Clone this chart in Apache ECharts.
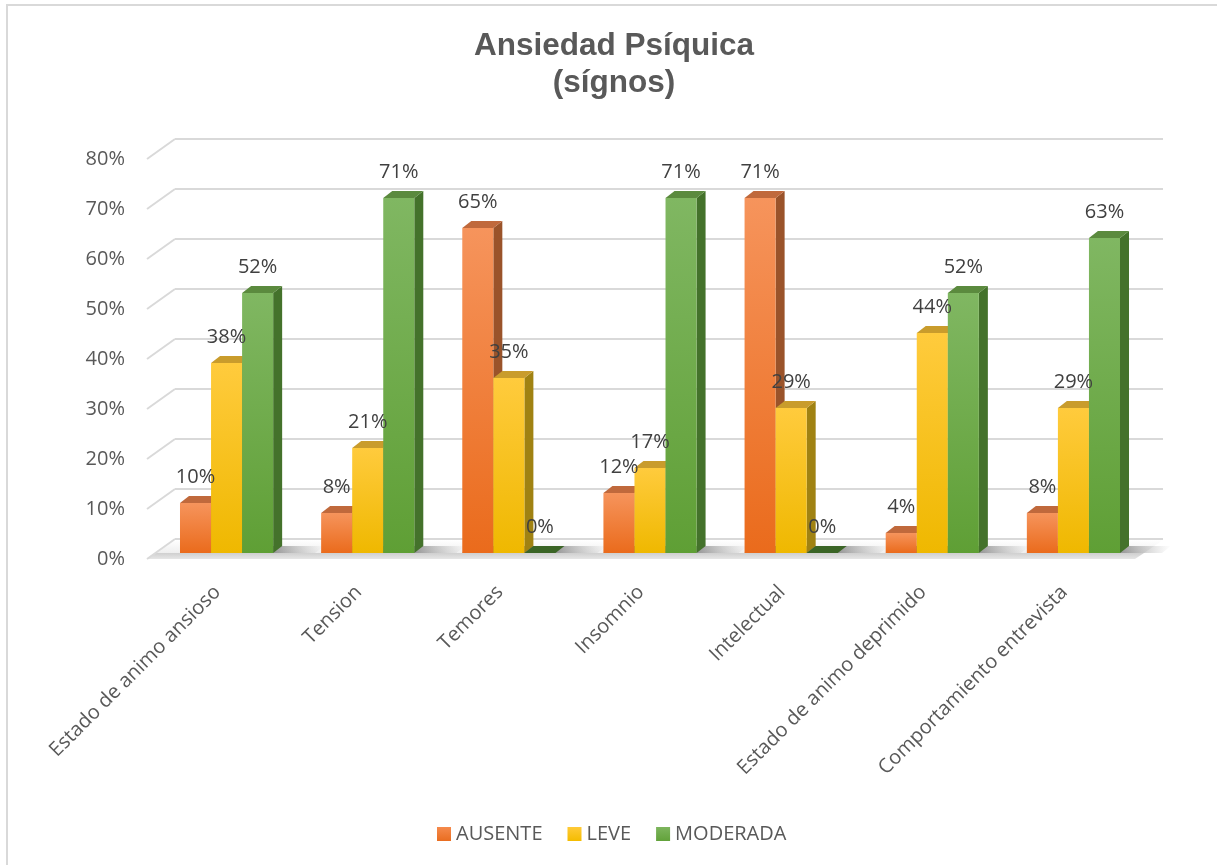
<!DOCTYPE html>
<html>
<head>
<meta charset="utf-8">
<title>Ansiedad Psíquica (sígnos)</title>
<script src="https://cdn.jsdelivr.net/npm/echarts@6/dist/echarts.min.js"></script>
<style>
  html, body { margin: 0; padding: 0; background: #ffffff; }
  #chart { width: 1217px; height: 865px; }
</style>
</head>
<body>
<div id="chart"></div>
<script>
// Categories and percentages per level
const categories = [
  'Estado de animo ansioso',
  'Tension',
  'Temores',
  'Insomnio',
  'Intelectual',
  'Estado de animo deprimido',
  'Comportamiento entrevista'
];
const seriesNames = ['AUSENTE', 'LEVE', 'MODERADA'];
const ausente = [10, 8, 65, 12, 71, 4, 8];
const leve = [38, 21, 35, 17, 29, 44, 29];
const moderada = [52, 71, 0, 71, 0, 52, 63];
const yTicks = [0, 10, 20, 30, 40, 50, 60, 70, 80];

// 3D look: bars sit in front of the back wall, faces receding up-right
const FRONT_DX = -19, FRONT_DY = 14;   // bar front plane relative to back wall
const DEPTH_DX = 9, DEPTH_DY = -7;     // bar depth (top / side faces)
const WALL_DX = -28, WALL_DY = 20;     // front edge of the floor / axis
const BAR_RATIO = 0.22;

const palettes = [
  { front: ['#f6945c', '#ea6b1c'], top: '#c0693c', side: '#9a532a', legend: ['#f58a4c', '#e96d20'] },
  { front: ['#ffcb3d', '#efb800'], top: '#c99c2c', side: '#a08212', legend: ['#ffca38', '#f4bc00'] },
  { front: ['#80b762', '#5f9f35'], top: '#5b8a3e', side: '#44722b', legend: ['#7db55d', '#62a23a'] }
];
const values = [ausente, leve, moderada];
const FONT = '"Open Sans", "Noto Sans", sans-serif';

function vGrad(c) {
  return new echarts.graphic.LinearGradient(0, 0, 0, 1, [
    { offset: 0, color: c[0] }, { offset: 1, color: c[1] }
  ]);
}

function barRenderer(k) {
  const pal = palettes[k];
  return function (params, api) {
    const i = api.value(0), v = api.value(1);
    const c = api.coord([i, v]);
    const base = api.coord([i, 0]);
    const band = api.size([1, 0])[0];
    const w = band * BAR_RATIO;
    const x0 = c[0] - 1.5 * w + k * w + FRONT_DX;
    const x1 = x0 + w;
    const yTop = c[1] + FRONT_DY;
    const yBot = base[1] + FRONT_DY;
    const children = [];
    if (yBot - yTop > 0.5) {
      children.push({
        type: 'polygon',
        shape: { points: [[x1, yTop], [x1 + DEPTH_DX, yTop + DEPTH_DY], [x1 + DEPTH_DX, yBot + DEPTH_DY], [x1, yBot]] },
        style: { fill: pal.side }, z2: k + 1
      });
      children.push({
        type: 'rect',
        shape: { x: x0, y: yTop, width: w, height: yBot - yTop },
        style: { fill: vGrad(pal.front) }, z2: k + 1
      });
    }
    children.push({
      type: 'polygon',
      shape: { points: [[x0, yTop], [x1, yTop], [x1 + DEPTH_DX, yTop + DEPTH_DY], [x0 + DEPTH_DX, yTop + DEPTH_DY]] },
      style: { fill: v === 0 ? '#3b6526' : pal.top }, z2: k + 1
    });
    children.push({
      type: 'text',
      x: (x0 + x1) / 2, y: yTop - 26,
      style: { text: v + '%', fill: '#404040', font: '20px ' + FONT, align: 'center', verticalAlign: 'middle' },
      z2: 100
    });
    return { type: 'group', children: children };
  };
}

// Floor slab and the soft shadows the bar groups cast on it
function floorRenderer(params, api) {
  const cs = params.coordSys;
  const yb = cs.y + cs.height;
  const children = [];
  if (params.dataIndex === 0) {
    children.push({
      type: 'polygon',
      shape: { points: [[cs.x, yb + 1], [cs.x + cs.width, yb + 1], [cs.x + cs.width + FRONT_DX, yb + FRONT_DY], [cs.x + FRONT_DX, yb + FRONT_DY]] },
      style: { fill: new echarts.graphic.LinearGradient(0, 0, 0, 1, [{ offset: 0, color: '#ffffff' }, { offset: 1, color: '#eeeeee' }]) }
    });
    children.push({
      type: 'polygon',
      shape: { points: [[cs.x + FRONT_DX, yb + FRONT_DY], [cs.x + cs.width + FRONT_DX, yb + FRONT_DY], [cs.x + cs.width + WALL_DX, yb + WALL_DY], [cs.x + WALL_DX, yb + WALL_DY]] },
      style: { fill: new echarts.graphic.LinearGradient(0, 0, 0, 1, [{ offset: 0, color: '#cfcfcf' }, { offset: 1, color: '#e6e6e6' }]) }
    });
  }
  const i = api.value(0);
  const c = api.coord([i, 0]);
  const band = api.size([1, 0])[0];
  const w = band * BAR_RATIO;
  const gx0 = c[0] - 1.5 * w + FRONT_DX;
  const gx1 = gx0 + 3 * w;
  const yF = c[1] + FRONT_DY;
  const len = 42;
  children.push({
    type: 'polygon',
    shape: { points: [[gx0 + DEPTH_DX, yF + DEPTH_DY], [gx1 + DEPTH_DX + len, yF + DEPTH_DY], [gx1 + len, yF], [gx0, yF]] },
    style: {
      fill: new echarts.graphic.LinearGradient(0, 0, 1, 0, [
        { offset: 0, color: 'rgba(40,40,40,0.75)' },
        { offset: 0.62, color: 'rgba(60,60,60,0.55)' },
        { offset: 1, color: 'rgba(120,120,120,0)' }
      ])
    }
  });
  return { type: 'group', children: children };
}

// Short receding gridline stubs linking the axis labels to the back wall
function stubRenderer(params, api) {
  const cs = params.coordSys;
  const y = api.coord([0, api.value(0)])[1];
  return {
    type: 'line',
    shape: { x1: cs.x + WALL_DX, y1: y + WALL_DY, x2: cs.x, y2: y },
    style: { stroke: '#d9d9d9', lineWidth: 2 }
  };
}

const chart = echarts.init(document.getElementById('chart'), null, { renderer: 'canvas' });

const series = [
  {
    type: 'custom', name: 'floor', xAxisIndex: 0, yAxisIndex: 0, z: 1, silent: true,
    renderItem: floorRenderer,
    data: categories.map((c, i) => [i, 0]),
    encode: { x: 0, y: 1 }
  },
  {
    type: 'custom', name: 'stubs', xAxisIndex: 0, yAxisIndex: 0, z: 1, silent: true,
    renderItem: stubRenderer,
    data: yTicks.map(v => [v]),
    encode: { y: 0 }
  }
];
seriesNames.forEach((name, k) => {
  series.push({
    type: 'custom', name: name, xAxisIndex: 0, yAxisIndex: 0, z: 2,
    renderItem: barRenderer(k),
    itemStyle: { color: vGrad(palettes[k].legend) },
    data: values[k].map((v, i) => [i, v]),
    encode: { x: 0, y: 1 }
  });
});

chart.setOption({
  backgroundColor: '#ffffff',
  animation: false,
  title: {
    text: 'Ansiedad Psíquica\n(sígnos)',
    left: 614, top: 28, textAlign: 'center', padding: 0,
    textStyle: { fontFamily: '"Liberation Sans", Arial, sans-serif', fontWeight: 'bold', fontSize: 31.5, lineHeight: 37, color: '#595959' }
  },
  legend: {
    data: seriesNames,
    left: 437, top: 824, padding: 0,
    icon: 'rect', itemWidth: 14, itemHeight: 14, itemGap: 25,
    textStyle: { fontFamily: FONT, fontSize: 20, color: '#595959' }
  },
  graphic: [{
    type: 'rect', silent: true,
    shape: { x: 7, y: 5, width: 1260, height: 900 },
    style: { fill: 'none', stroke: '#d9d9d9', lineWidth: 2 }
  }],
  grid: [
    { left: 175, right: 54, top: 139, bottom: 326 },
    { left: 147, right: 82, top: 159, bottom: 306 }
  ],
  xAxis: [
    { type: 'category', gridIndex: 0, data: categories, axisLine: { show: false }, axisTick: { show: false }, axisLabel: { show: false } },
    {
      type: 'category', gridIndex: 1, data: categories,
      axisLine: { show: false }, axisTick: { show: false },
      axisLabel: { rotate: 45, margin: 30, interval: 0, fontFamily: FONT, fontSize: 20, color: '#595959' }
    }
  ],
  yAxis: [
    {
      type: 'value', gridIndex: 0, min: 0, max: 80, interval: 10,
      axisLine: { show: false }, axisTick: { show: false }, axisLabel: { show: false },
      splitLine: { lineStyle: { color: '#d9d9d9', width: 2 } }
    },
    {
      type: 'value', gridIndex: 1, min: 0, max: 80, interval: 10,
      axisLine: { show: false }, axisTick: { show: false }, splitLine: { show: false },
      axisLabel: { formatter: '{value}%', margin: 22, fontFamily: FONT, fontSize: 20, color: '#595959' }
    }
  ],
  series: series
});
</script>
</body>
</html>
